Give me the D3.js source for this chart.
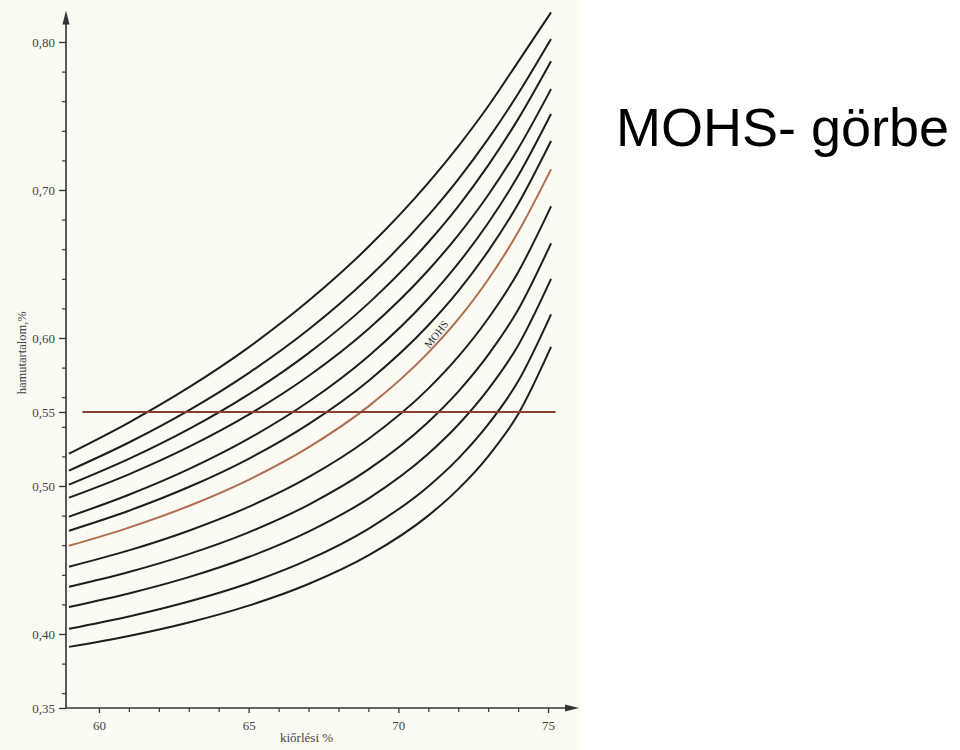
<!DOCTYPE html>
<html>
<head>
<meta charset="utf-8">
<script src="https://cdn.jsdelivr.net/npm/d3@7"></script>
<style>
  html, body { margin: 0; padding: 0; background: #ffffff; }
  svg { display: block; }
</style>
</head>
<body>
<div id="chart"></div>
<script>
// ---------- DATA ----------
const chartTitle = "MOHS- görbe";
const xTitle = "kiőrlési %";
const yTitle = "hamutartalom,%";
const curveLabel = "MOHS";

// extraction rate (%) sample positions
const xValues = [59, 61, 63, 65, 67, 69, 71, 72, 73, 74, 75.1];

// ash content (%) of each curve, top to bottom
const curve01 = [0.5219, 0.5429, 0.5666, 0.5937, 0.6251, 0.6616, 0.7048, 0.7295, 0.7566, 0.7866, 0.8200];
const curve02 = [0.5104, 0.5294, 0.5511, 0.5763, 0.6057, 0.6407, 0.6828, 0.7072, 0.7345, 0.7650, 0.8020];
const curve03 = [0.5009, 0.5183, 0.5384, 0.5619, 0.5898, 0.6234, 0.6647, 0.6890, 0.7166, 0.7479, 0.7870];
const curve04 = [0.4921, 0.5079, 0.5264, 0.5482, 0.5743, 0.6061, 0.6458, 0.6695, 0.6966, 0.7279, 0.7682];
const curve05 = [0.4793, 0.4941, 0.5114, 0.5320, 0.5569, 0.5877, 0.6267, 0.6504, 0.6777, 0.7096, 0.7514];
const curve06 = [0.4698, 0.4833, 0.4993, 0.5184, 0.5418, 0.5710, 0.6086, 0.6317, 0.6587, 0.6906, 0.7332];
const mohsCurve = [0.4596, 0.4719, 0.4865, 0.5042, 0.5261, 0.5538, 0.5901, 0.6127, 0.6395, 0.6716, 0.7140];
const curve08 = [0.4455, 0.4565, 0.4698, 0.4859, 0.5060, 0.5318, 0.5658, 0.5874, 0.6132, 0.6445, 0.6890];
const curve09 = [0.4319, 0.4419, 0.4540, 0.4687, 0.4873, 0.5112, 0.5433, 0.5638, 0.5886, 0.6191, 0.6640];
const curve10 = [0.4183, 0.4274, 0.4384, 0.4520, 0.4692, 0.4915, 0.5218, 0.5414, 0.5653, 0.5950, 0.6400];
const curve11 = [0.4035, 0.4118, 0.4219, 0.4343, 0.4502, 0.4711, 0.4997, 0.5185, 0.5416, 0.5707, 0.6160];
const curve12 = [0.3913, 0.3987, 0.4078, 0.4192, 0.4338, 0.4531, 0.4800, 0.4979, 0.5201, 0.5485, 0.5940];

// horizontal reference line (ash limit)
const refValue = 0.55;
const refRange = [59.45, 75.25];

// ticks
const xMajorTicks = [60, 65, 70, 75];
const xMinorTicks = [61, 62, 63, 64, 66, 67, 68, 69, 71, 72, 73, 74];
const yMajorTicks = [0.35, 0.40, 0.50, 0.55, 0.60, 0.70, 0.80];
const yMinorTicks = [0.36, 0.38, 0.42, 0.44, 0.46, 0.48, 0.52, 0.54, 0.56, 0.58,
                     0.62, 0.64, 0.66, 0.68, 0.72, 0.74, 0.76, 0.78];

// ---------- DRAW ----------
const W = 960, H = 750;
const svg = d3.select("#chart").append("svg")
  .attr("width", W).attr("height", H);

// scanned page background
svg.append("rect").attr("x", 0).attr("y", 0).attr("width", 580).attr("height", H)
  .attr("fill", "#fbfaf3");

const x = d3.scaleLinear().domain([58.9, 76]).range([66, 578]);
const y = d3.scaleLinear().domain([0.35, 0.80]).range([708, 42]);

const serif = "'Liberation Serif', 'DejaVu Serif', serif";
const axisColor = "#333";

// Y axis
const yAxisG = svg.append("g").attr("transform", `translate(${x(58.9)},0)`);
yAxisG.call(d3.axisLeft(y).tickValues(yMajorTicks).tickSize(7).tickPadding(4)
  .tickFormat(d => d.toFixed(2).replace(".", ",")));
yAxisG.select(".domain").remove();
yAxisG.selectAll("line").attr("stroke", axisColor).attr("stroke-width", 1.3);
yAxisG.selectAll("text").attr("font-family", serif).attr("font-size", 13).attr("fill", "#444");

const yMinorG = svg.append("g").attr("transform", `translate(${x(58.9)},0)`);
yMinorG.call(d3.axisLeft(y).tickValues(yMinorTicks).tickSize(4).tickFormat(""));
yMinorG.select(".domain").remove();
yMinorG.selectAll("line").attr("stroke", axisColor).attr("stroke-width", 1.2);

// X axis
const xAxisG = svg.append("g").attr("transform", `translate(0,${y(0.35)})`);
xAxisG.call(d3.axisBottom(x).tickValues(xMajorTicks).tickSize(5).tickPadding(8)
  .tickFormat(d3.format("d")));
xAxisG.select(".domain").remove();
xAxisG.selectAll("line").attr("stroke", axisColor).attr("stroke-width", 1.3);
xAxisG.selectAll("text").attr("font-family", serif).attr("font-size", 13).attr("fill", "#444");

const xMinorG = svg.append("g").attr("transform", `translate(0,${y(0.35)})`);
xMinorG.call(d3.axisBottom(x).tickValues(xMinorTicks).tickSize(4).tickFormat(""));
xMinorG.select(".domain").remove();
xMinorG.selectAll("line").attr("stroke", axisColor).attr("stroke-width", 1.2);

// axis lines with arrows
const x0 = x(58.9), y0 = y(0.35);
const yTop = y(0.82), xRight = x(75.9);
svg.append("line").attr("x1", x0).attr("y1", y0).attr("x2", x0).attr("y2", yTop + 8)
  .attr("stroke", axisColor).attr("stroke-width", 1.6);
svg.append("path")
  .attr("d", `M${x0},${yTop - 2} L${x0 - 3.5},${yTop + 12} L${x0 + 3.5},${yTop + 12} Z`)
  .attr("fill", axisColor);
svg.append("line").attr("x1", x0).attr("y1", y0).attr("x2", xRight - 8).attr("y2", y0)
  .attr("stroke", axisColor).attr("stroke-width", 1.6);
svg.append("path")
  .attr("d", `M${xRight + 4},${y0} L${xRight - 10},${y0 - 3.5} L${xRight - 10},${y0 + 3.5} Z`)
  .attr("fill", axisColor);

// axis titles
svg.append("text").attr("x", 280).attr("y", 742)
  .attr("font-family", serif).attr("font-size", 13).attr("fill", "#444")
  .text(xTitle);
svg.append("text")
  .attr("transform", `translate(26,${y(0.59)}) rotate(-90)`)
  .attr("text-anchor", "middle")
  .attr("font-family", serif).attr("font-size", 12.5).attr("fill", "#444")
  .text(yTitle);

// curves
const blackCurves = [curve01, curve02, curve03, curve04, curve05, curve06,
                     curve08, curve09, curve10, curve11, curve12];
const line = d3.line()
  .x((d, i) => x(xValues[i]))
  .y(d => y(d))
  .curve(d3.curveMonotoneX);

svg.append("g").selectAll("path").data(blackCurves).join("path")
  .attr("d", d => line(d))
  .attr("fill", "none").attr("stroke", "#1e1e1e").attr("stroke-width", 2);

svg.append("path").attr("d", line(mohsCurve))
  .attr("fill", "none").attr("stroke", "#b06e50").attr("stroke-width", 2);

// reference line at 0.55
svg.append("line")
  .attr("x1", x(refRange[0])).attr("x2", x(refRange[1]))
  .attr("y1", y(refValue)).attr("y2", y(refValue))
  .attr("stroke", "#8c3e32").attr("stroke-width", 2);

// MOHS label along brown curve
svg.append("text")
  .attr("transform", `translate(${x(71.3)},${y(0.602)}) rotate(-52)`)
  .attr("text-anchor", "middle").attr("dominant-baseline", "middle")
  .attr("font-family", serif).attr("font-size", 11).attr("fill", "#333")
  .text(curveLabel);

// big title
svg.append("text").attr("x", 616).attr("y", 146)
  .attr("font-family", "'Liberation Sans', Arial, sans-serif")
  .attr("font-size", 54).attr("fill", "#000")
  .text(chartTitle);
</script>
</body>
</html>
